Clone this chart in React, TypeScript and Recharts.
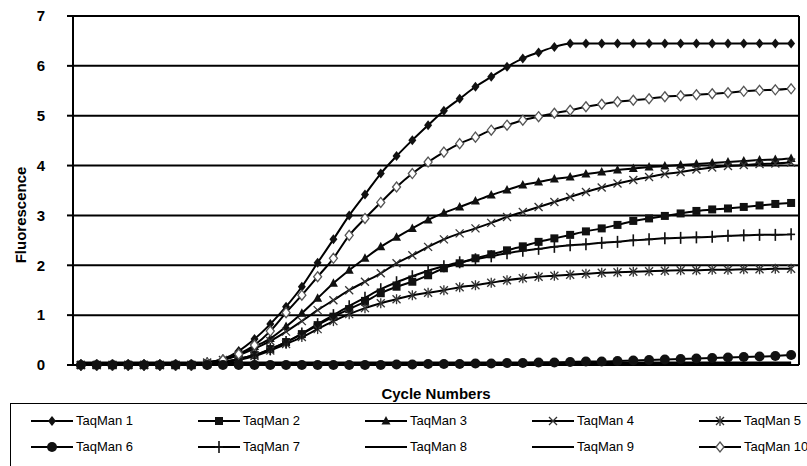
import React from "react";
import { LineChart, Line, XAxis, YAxis, CartesianGrid, ReferenceLine } from "recharts";

const cycles = [
  1, 2, 3, 4, 5, 6, 7, 8, 9, 10, 11, 12, 13, 14, 15, 16, 17, 18, 19, 20, 21, 22, 23,
  24, 25, 26, 27, 28, 29, 30, 31, 32, 33, 34, 35, 36, 37, 38, 39, 40, 41, 42, 43, 44, 45, 46,
];

const yTicks = [0, 1, 2, 3, 4, 5, 6, 7];

const taqman1 = [
  0, 0, 0, 0, 0, 0, 0, 0.02, 0.05, 0.12, 0.28, 0.52, 0.82, 1.17, 1.57, 2.05, 2.52, 3.0, 3.42, 3.84,
  4.19, 4.51, 4.81, 5.1, 5.34, 5.58, 5.78, 5.98, 6.15, 6.27, 6.38, 6.45, 6.45, 6.45, 6.45, 6.45,
  6.45, 6.45, 6.45, 6.45, 6.45, 6.45, 6.45, 6.45, 6.45, 6.45,
];
const taqman2 = [
  0, 0, 0, 0, 0, 0, 0, 0, 0.03, 0.06, 0.12, 0.2, 0.32, 0.46, 0.62, 0.8, 0.97, 1.12, 1.27, 1.44,
  1.57, 1.67, 1.8, 1.94, 2.04, 2.14, 2.22, 2.3, 2.38, 2.47, 2.54, 2.61, 2.68, 2.74, 2.81, 2.89,
  2.94, 2.99, 3.04, 3.09, 3.12, 3.14, 3.17, 3.2, 3.23, 3.25,
];
const taqman3 = [
  0, 0, 0, 0, 0, 0, 0, 0, 0.05, 0.11, 0.22, 0.37, 0.53, 0.77, 1.04, 1.34, 1.64, 1.9, 2.14, 2.37,
  2.56, 2.74, 2.91, 3.05, 3.17, 3.29, 3.41, 3.51, 3.61, 3.67, 3.73, 3.77, 3.83, 3.87, 3.91, 3.94,
  3.97, 3.99, 4.01, 4.03, 4.05, 4.07, 4.09, 4.11, 4.12, 4.14,
];
const taqman4 = [
  0, 0, 0, 0, 0, 0, 0, 0, 0.05, 0.1, 0.2, 0.33, 0.48, 0.67, 0.88, 1.1, 1.3, 1.5, 1.67, 1.84,
  2.04, 2.2, 2.37, 2.52, 2.64, 2.74, 2.85, 2.97, 3.07, 3.17, 3.27, 3.37, 3.47, 3.56, 3.64, 3.71,
  3.77, 3.83, 3.87, 3.92, 3.96, 3.99, 4.01, 4.03, 4.04, 4.06,
];
const taqman5 = [
  0, 0, 0, 0, 0, 0, 0, 0, 0.02, 0.05, 0.1, 0.18, 0.29, 0.42, 0.56, 0.72, 0.88, 1.02, 1.14, 1.24,
  1.32, 1.4, 1.45, 1.5, 1.56, 1.6, 1.65, 1.7, 1.74, 1.77, 1.79, 1.81, 1.83, 1.85, 1.86, 1.87,
  1.88, 1.89, 1.9, 1.9, 1.91, 1.91, 1.92, 1.92, 1.93, 1.93,
];
const taqman6 = [
  0, 0, 0, 0, 0, 0, 0, 0, 0, 0, 0, 0, 0, 0, 0, 0, 0, 0, 0, 0, 0.01, 0.01, 0.02, 0.02, 0.02,
  0.03, 0.03, 0.04, 0.04, 0.05, 0.05, 0.06, 0.07, 0.07, 0.08, 0.09, 0.1, 0.11, 0.12, 0.13, 0.14,
  0.15, 0.16, 0.17, 0.18, 0.2,
];
const taqman7 = [
  0, 0, 0, 0, 0, 0, 0, 0, 0.03, 0.06, 0.12, 0.2, 0.32, 0.46, 0.63, 0.82, 1.0, 1.18, 1.35, 1.52,
  1.66, 1.78, 1.89, 1.98, 2.06, 2.12, 2.18, 2.24, 2.29, 2.33, 2.37, 2.4, 2.42, 2.45, 2.47, 2.5,
  2.52, 2.54, 2.55, 2.56, 2.57, 2.59, 2.6, 2.61, 2.61, 2.62,
];
const taqman8 = [
  0.03, 0.03, 0.03, 0.03, 0.03, 0.03, 0.03, 0.03, 0.03, 0.03, 0.03, 0.03, 0.03, 0.03, 0.03, 0.03,
  0.03, 0.03, 0.03, 0.03, 0.03, 0.03, 0.03, 0.03, 0.03, 0.03, 0.03, 0.03, 0.03, 0.03, 0.03, 0.03,
  0.03, 0.03, 0.03, 0.03, 0.03, 0.03, 0.03, 0.03, 0.03, 0.03, 0.03, 0.03, 0.03, 0.03,
];
const taqman9 = [
  0.05, 0.05, 0.05, 0.05, 0.05, 0.05, 0.05, 0.05, 0.05, 0.05, 0.05, 0.05, 0.05, 0.05, 0.05, 0.05,
  0.05, 0.05, 0.05, 0.05, 0.05, 0.05, 0.05, 0.05, 0.05, 0.05, 0.05, 0.05, 0.05, 0.05, 0.05, 0.05,
  0.05, 0.05, 0.05, 0.05, 0.05, 0.05, 0.05, 0.05, 0.05, 0.05, 0.05, 0.05, 0.05, 0.05,
];
const taqman10 = [
  0, 0, 0, 0, 0, 0, 0, 0, 0.04, 0.1, 0.22, 0.4, 0.68, 1.05, 1.4, 1.77, 2.14, 2.6, 2.94, 3.26,
  3.57, 3.84, 4.07, 4.27, 4.44, 4.57, 4.71, 4.81, 4.91, 4.98, 5.05, 5.11, 5.18, 5.23, 5.28, 5.31,
  5.34, 5.38, 5.4, 5.42, 5.44, 5.46, 5.49, 5.51, 5.52, 5.54,
];

type MarkerKind =
  | "diamond"
  | "square"
  | "triangle"
  | "cross"
  | "star"
  | "circle"
  | "plus"
  | "none"
  | "openDiamond";

const series: { key: string; name: string; values: number[]; marker: MarkerKind }[] = [
  { key: "t1", name: "TaqMan 1", values: taqman1, marker: "diamond" },
  { key: "t2", name: "TaqMan 2", values: taqman2, marker: "square" },
  { key: "t3", name: "TaqMan 3", values: taqman3, marker: "triangle" },
  { key: "t4", name: "TaqMan 4", values: taqman4, marker: "cross" },
  { key: "t5", name: "TaqMan 5", values: taqman5, marker: "star" },
  { key: "t6", name: "TaqMan 6", values: taqman6, marker: "circle" },
  { key: "t7", name: "TaqMan 7", values: taqman7, marker: "plus" },
  { key: "t8", name: "TaqMan 8", values: taqman8, marker: "none" },
  { key: "t9", name: "TaqMan 9", values: taqman9, marker: "none" },
  { key: "t10", name: "TaqMan 10", values: taqman10, marker: "openDiamond" },
];

// circles sit on top of the baseline in the original, so draw TaqMan 6 last
const drawOrder = ["t1", "t2", "t3", "t4", "t5", "t7", "t8", "t9", "t10", "t6"];

const data = cycles.map((c, i) => {
  const row: Record<string, number> = { cycle: c };
  series.forEach((s) => {
    row[s.key] = s.values[i];
  });
  return row;
});

const INK = "#111";
const FONT = "'Liberation Sans', Arial, sans-serif";

function Marker({ kind, cx, cy }: { kind: MarkerKind; cx: number; cy: number }) {
  switch (kind) {
    case "diamond":
      return (
        <polygon
          points={`${cx},${cy - 5} ${cx + 4},${cy} ${cx},${cy + 5} ${cx - 4},${cy}`}
          fill={INK}
        />
      );
    case "openDiamond":
      return (
        <polygon
          points={`${cx},${cy - 5} ${cx + 4},${cy} ${cx},${cy + 5} ${cx - 4},${cy}`}
          fill="#fff"
          stroke="#555"
          strokeWidth={1.3}
        />
      );
    case "square":
      return <rect x={cx - 4} y={cy - 4} width={8} height={8} fill={INK} />;
    case "triangle":
      return (
        <polygon points={`${cx},${cy - 5} ${cx + 4.5},${cy + 3.5} ${cx - 4.5},${cy + 3.5}`} fill={INK} />
      );
    case "cross":
      return (
        <g stroke="#333" strokeWidth={1.3}>
          <line x1={cx - 4} y1={cy - 4} x2={cx + 4} y2={cy + 4} />
          <line x1={cx - 4} y1={cy + 4} x2={cx + 4} y2={cy - 4} />
        </g>
      );
    case "star":
      return (
        <g stroke="#333" strokeWidth={1.3}>
          <line x1={cx - 4} y1={cy - 4} x2={cx + 4} y2={cy + 4} />
          <line x1={cx - 4} y1={cy + 4} x2={cx + 4} y2={cy - 4} />
          <line x1={cx} y1={cy - 5} x2={cx} y2={cy + 5} />
        </g>
      );
    case "circle":
      return <circle cx={cx} cy={cy} r={5} fill={INK} />;
    case "plus":
      return (
        <g stroke={INK} strokeWidth={1.6}>
          <line x1={cx - 4} y1={cy} x2={cx + 4} y2={cy} />
          <line x1={cx} y1={cy - 6} x2={cx} y2={cy + 6} />
        </g>
      );
    default:
      return null;
  }
}

function LegendBox() {
  return (
    <div
      style={{
        position: "absolute",
        left: 10,
        top: 403,
        width: 820,
        height: 80,
        border: "1px solid #000",
        boxSizing: "border-box",
      }}
    >
      {series.map((s, i) => {
        const col = i % 5;
        const row = Math.floor(i / 5);
        return (
          <div
            key={s.key}
            style={{
              position: "absolute",
              left: 20 + col * 167,
              top: 9 + row * 26,
              display: "flex",
              alignItems: "center",
              fontFamily: FONT,
              fontSize: 13,
              color: "#000",
              whiteSpace: "nowrap",
            }}
          >
            <svg width={42} height={14} style={{ marginRight: 3 }}>
              <line x1={0} y1={7} x2={42} y2={7} stroke="#000" strokeWidth={2} />
              <Marker kind={s.marker} cx={21} cy={7} />
            </svg>
            <span>{s.name}</span>
          </div>
        );
      })}
    </div>
  );
}

export default function App() {
  const ordered = drawOrder.map((k) => series.find((s) => s.key === k)!);
  return (
    <div
      style={{
        position: "absolute",
        left: 0,
        top: 0,
        width: 807,
        height: 466,
        overflow: "hidden",
        background: "#fff",
      }}
    >
      <LineChart
        width={807}
        height={466}
        data={data}
        margin={{ top: 16, right: 8, left: 0, bottom: 65 }}
      >
        <CartesianGrid vertical={false} stroke="#000" strokeWidth={2} />
        <XAxis
          dataKey="cycle"
          type="number"
          domain={[0.5, 46.5]}
          ticks={[]}
          tick={false}
          tickLine={false}
          axisLine={{ stroke: "#000", strokeWidth: 2 }}
          height={36}
          label={{
            value: "Cycle Numbers",
            position: "insideBottom",
            offset: 2,
            fill: "#000",
            fontSize: 15,
            fontWeight: "bold",
            fontFamily: FONT,
          }}
        />
        <YAxis
          domain={[0, 7]}
          ticks={yTicks}
          width={73}
          tickSize={6}
          tickMargin={22}
          axisLine={{ stroke: "#000", strokeWidth: 2 }}
          tickLine={{ stroke: "#000", strokeWidth: 2 }}
          tick={{ fill: "#000", fontSize: 15, fontWeight: "bold", fontFamily: FONT }}
          label={{
            content: () => (
              <text
                x={20}
                y={215}
                transform="rotate(-90 20 215)"
                textAnchor="middle"
                dominantBaseline="central"
                fill="#000"
                fontSize={15}
                fontWeight="bold"
                fontFamily={FONT}
              >
                Fluorescence
              </text>
            ),
          }}
        />
        <ReferenceLine x={46.5} stroke="#000" strokeWidth={2} />
        {ordered.map((s) => (
          <Line
            key={s.key}
            dataKey={s.key}
            name={s.name}
            type="monotone"
            stroke="#000"
            strokeWidth={2}
            isAnimationActive={false}
            dot={
              s.marker === "none"
                ? false
                : (p: any) => (
                    <Marker key={`${s.key}-${p.index}`} kind={s.marker} cx={p.cx} cy={p.cy} />
                  )
            }
            activeDot={false}
          />
        ))}
      </LineChart>
      <LegendBox />
    </div>
  );
}
